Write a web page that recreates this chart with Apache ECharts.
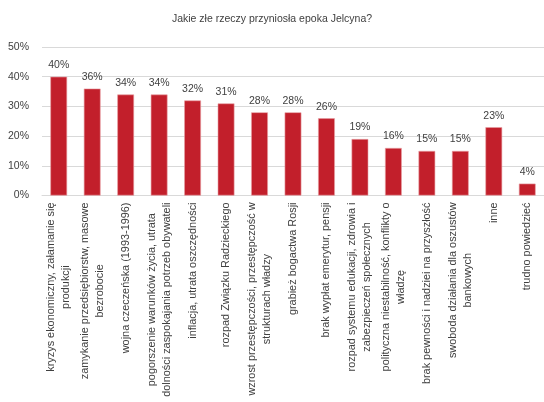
<!DOCTYPE html>
<html>
<head>
<meta charset="utf-8">
<script src="https://cdn.jsdelivr.net/npm/echarts@6/dist/echarts.min.js"></script>
<style>
  html, body { margin: 0; padding: 0; background: #fff; }
  #main { width: 544px; height: 402px; }
</style>
</head>
<body>
<div id="main"></div>
<script>
// dane z wykresu
var categories = [
  'kryzys ekonomiczny, załamanie się\nprodukcji',
  'zamykanie przedsiębiorstw, masowe\nbezrobocie',
  'wojna czeczeńska (1993-1996)',
  'pogorszenie warunków życia, utrata\ndolności zaspokajania potrzeb obywateli',
  'inflacja, utrata oszczędności',
  'rozpad Związku Radzieckiego',
  'wzrost przestępczości, przestępczość w\nstrukturach władzy',
  'grabież bogactwa Rosji',
  'brak wypłat emerytur, pensji',
  'rozpad systemu edukacji, zdrowia i\nzabezpieczeń społecznych',
  'polityczna niestabilność, konflikty o\nwładzę',
  'brak pewności i nadziei na przyszłość',
  'swoboda działania dla oszustów\nbankowych',
  'inne',
  'trudno powiedzieć'
];
var values = [40, 36, 34, 34, 32, 31, 28, 28, 26, 19, 16, 15, 15, 23, 4];
var yTicks = [0, 10, 20, 30, 40, 50];

var font = '"Liberation Sans", Arial, sans-serif';
var chart = echarts.init(document.getElementById('main'));

chart.setOption({
  animation: false,
  title: {
    text: 'Jakie złe rzeczy przyniosła epoka Jelcyna?',
    left: 'center',
    top: 9,
    textStyle: { fontFamily: font, fontSize: 10.5, fontWeight: 'normal', color: '#404040' }
  },
  grid: { left: 42, top: 47, width: 505, bottom: 206.5 },
  xAxis: {
    type: 'category',
    data: categories,
    axisLine: { lineStyle: { color: '#d9d9d9' } },
    axisTick: { show: false },
    axisLabel: {
      interval: 0,
      rotate: 90,
      margin: 7,
      color: '#404040',
      fontFamily: font,
      fontSize: 10.9,
      formatter: function (v) {
        // kazda linia wysrodkowana w bloku
        return v.split('\n').map(function (s) { return '{c|' + s + '}'; }).join('\n');
      },
      rich: {
        c: { align: 'center', fontFamily: font, fontSize: 10.9, color: '#404040', lineHeight: 15 }
      }
    }
  },
  yAxis: {
    type: 'value',
    min: yTicks[0],
    max: yTicks[yTicks.length - 1],
    interval: 10,
    axisLine: { show: false },
    axisTick: { show: false },
    splitLine: { lineStyle: { color: '#d9d9d9' } },
    axisLabel: {
      formatter: '{value}%',
      margin: 13,
      color: '#404040',
      fontFamily: font,
      fontSize: 10.5
    }
  },
  series: [{
    type: 'bar',
    data: values,
    barWidth: '50%',
    itemStyle: { color: '#c21f2b', borderColor: '#e8a0a4', borderWidth: 0.6 },
    label: {
      show: true,
      position: 'top',
      distance: 6,
      formatter: '{c}%',
      color: '#404040',
      fontFamily: font,
      fontSize: 10.5
    }
  }]
});
</script>
</body>
</html>
